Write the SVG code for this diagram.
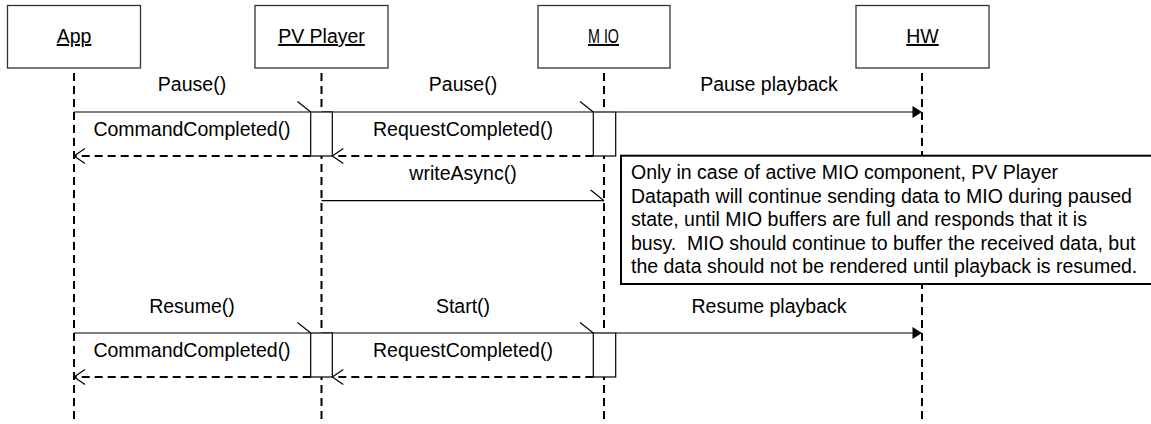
<svg xmlns="http://www.w3.org/2000/svg" width="1151" height="424" viewBox="0 0 1151 424">
<defs>
<style>
text{font-family:"Liberation Sans",Arial,sans-serif;font-size:19.5px;fill:#000}
.hdr{fill:#fff;stroke:#333;stroke-width:1.3}
.hl{text-decoration:underline;text-anchor:middle}
.life{stroke:#000;stroke-width:2;stroke-dasharray:8 5;fill:none}
.act{fill:#fff;stroke:#000;stroke-width:1.2}
.msg{stroke:#000;stroke-width:1.2;fill:none}
.ret{stroke:#000;stroke-width:2;stroke-dasharray:8 5;fill:none}
.head{stroke:#000;stroke-width:1.2;fill:none}
.lbl{text-anchor:middle}
.note{fill:#fff;stroke:#000;stroke-width:2}
.pre{white-space:pre}
</style>
</defs>
<rect width="1151" height="424" fill="#fff"/>
<g id="lifelines">
<line class="life" x1="74" y1="73" x2="74" y2="424"/>
<line class="life" x1="321.5" y1="73" x2="321.5" y2="424"/>
<line class="life" x1="604" y1="73" x2="604" y2="424"/>
<line class="life" x1="922" y1="73" x2="922" y2="424"/>
</g>
<g id="node-app"><rect class="hdr" x="7.5" y="5.5" width="133" height="62.5"/><text class="hl" x="74" y="43">App</text></g>
<g id="node-pvplayer"><rect class="hdr" x="255" y="5.5" width="133" height="62.5"/><text class="hl" x="321.5" y="43">PV Player</text></g>
<g id="node-mio"><rect class="hdr" x="538" y="5.5" width="132" height="62.5"/><text x="588" y="43" text-decoration="underline" textLength="31" lengthAdjust="spacingAndGlyphs">M IO</text></g>
<g id="node-hw"><rect class="hdr" x="856" y="5.5" width="133" height="62.5"/><text class="hl" x="922.5" y="43">HW</text></g>
<g id="connectors">
<line class="msg" x1="74" y1="112" x2="310.7" y2="112"/>
<line class="head" x1="297.5" y1="101.5" x2="310.7" y2="112"/>
<line class="msg" x1="321.5" y1="112" x2="593.3" y2="112"/>
<line class="head" x1="580" y1="101.5" x2="593.3" y2="112"/>
<line class="msg" x1="615.7" y1="112" x2="913" y2="112"/>
<polygon points="912.5,106 922,112 912.5,118" fill="#000"/>
<line class="ret" x1="310.7" y1="156" x2="74" y2="156"/>
<polyline class="head" points="85,148.5 74,156 85,163.5"/>
<line class="ret" x1="593.3" y1="156" x2="332.3" y2="156"/>
<polyline class="head" points="343.3,148.5 332.3,156 343.3,163.5"/>
<line class="msg" x1="321.5" y1="200.7" x2="604" y2="200.7"/>
<line class="head" x1="590.7" y1="190" x2="604" y2="200.7"/>
<line class="msg" x1="74" y1="333" x2="310.7" y2="333"/>
<line class="head" x1="297.5" y1="322.5" x2="310.7" y2="333"/>
<line class="msg" x1="321.5" y1="333" x2="593.3" y2="333"/>
<line class="head" x1="580" y1="322.5" x2="593.3" y2="333"/>
<line class="msg" x1="615.7" y1="333" x2="913" y2="333"/>
<polygon points="912.5,327 922,333 912.5,339" fill="#000"/>
<line class="ret" x1="310.7" y1="377" x2="74" y2="377"/>
<polyline class="head" points="85,369.5 74,377 85,384.5"/>
<line class="ret" x1="593.3" y1="377" x2="332.3" y2="377"/>
<polyline class="head" points="343.3,369.5 332.3,377 343.3,384.5"/>
</g>
<g id="activations">
<rect class="act" x="310.7" y="112" width="21.6" height="44"/>
<rect class="act" x="593.3" y="112" width="22.4" height="44"/>
<rect class="act" x="310.7" y="333" width="21.6" height="44"/>
<rect class="act" x="593.3" y="333" width="22.4" height="44"/>
</g>
<g id="labels">
<text class="lbl" x="192" y="91">Pause()</text>
<text class="lbl" x="192" y="136">CommandCompleted()</text>
<text class="lbl" x="463" y="91">Pause()</text>
<text class="lbl" x="463" y="136">RequestCompleted()</text>
<text class="lbl" x="769" y="91">Pause playback</text>
<text class="lbl" x="463" y="180">writeAsync()</text>
<text class="lbl" x="192" y="313">Resume()</text>
<text class="lbl" x="192" y="357">CommandCompleted()</text>
<text class="lbl" x="463" y="313">Start()</text>
<text class="lbl" x="463" y="357">RequestCompleted()</text>
<text class="lbl" x="769" y="313">Resume playback</text>
</g>
<g id="note">
<rect class="note" x="621" y="155.7" width="540" height="128.3"/>
<text x="631" y="179">Only in case of active MIO component, PV Player</text>
<text x="631" y="202.5">Datapath will continue sending data to MIO during paused</text>
<text x="631" y="226">state, until MIO buffers are full and responds that it is</text>
<text class="pre" x="631" y="249.5">busy.  MIO should continue to buffer the received data, but</text>
<text x="631" y="273">the data should not be rendered until playback is resumed.</text>
</g>
</svg>
